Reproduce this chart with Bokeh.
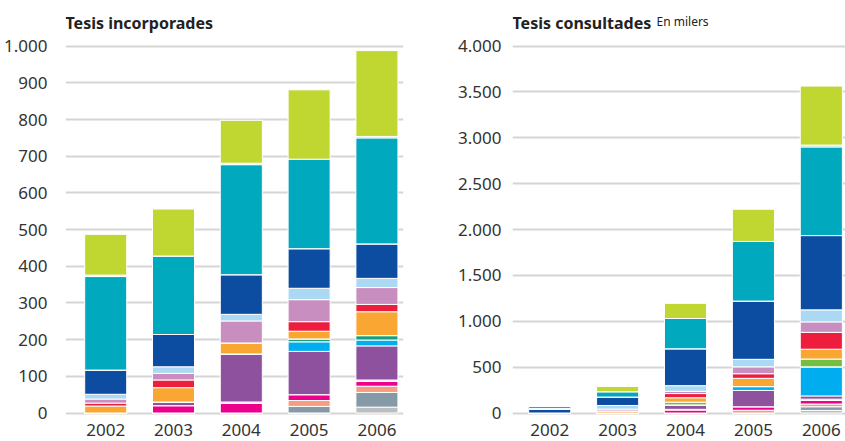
from bokeh.plotting import figure
from bokeh.models import ColumnDataSource, FixedTicker, Range1d
from bokeh.core.properties import value
from bokeh.layouts import row
from bokeh.embed import file_html
from bokeh.resources import INLINE

# ---------------- data ----------------
years = ["2002", "2003", "2004", "2005", "2006"]

series_names = [
    "s01", "s02", "s03", "s04", "s05", "s06", "s07", "s08", "s09",
    "s10", "s11", "s12", "s13", "s14", "s14b", "s15", "s16", "s17",
]
series_colors = [
    "#BCBEC0", "#8599A6", "#F69C7F", "#EC008C", "#F6B8D0", "#8D519E",
    "#00ADEE", "#12A17C", "#72BF44", "#F9A633", "#EE1D3D", "#C98EC0",
    "#ABD8F2", "#0D4DA1", "#A9D3EE", "#00A9BD", "#A1DAE4", "#BFD730",
]

# Tesis incorporades (units)
inc_s01 = [0, 0, 0, 0, 16]
inc_s02 = [0, 0, 0, 18, 40]
inc_s03 = [0, 0, 0, 16, 17]
inc_s04 = [0, 20, 26, 16, 13]
inc_s05 = [0, 0, 4, 0, 4]
inc_s06 = [0, 10, 131, 118, 93]
inc_s07 = [0, 0, 0, 26, 16]
inc_s08 = [0, 0, 0, 8, 12]
inc_s09 = [0, 0, 0, 0, 0]
inc_s10 = [19, 39, 30, 21, 65]
inc_s11 = [8, 21, 0, 26, 20]
inc_s12 = [11, 18, 60, 60, 46]
inc_s13 = [13, 18, 18, 31, 25]
inc_s14 = [66, 88, 108, 108, 94]
inc_s14b = [0, 0, 0, 0, 0]
inc_s15 = [255, 214, 300, 244, 289]
inc_s16 = [4, 0, 4, 0, 4]
inc_s17 = [111, 128, 117, 189, 234]

# Tesis consultades (thousands)
con_s01 = [0, 0, 0, 0, 28]
con_s02 = [0, 0, 0, 0, 40]
con_s03 = [0, 0, 0, 30, 30]
con_s04 = [0, 0, 32, 38, 38]
con_s05 = [0, 0, 8, 0, 15]
con_s06 = [0, 0, 48, 178, 35]
con_s07 = [0, 0, 0, 42, 317]
con_s08 = [0, 0, 0, 0, 0]
con_s09 = [0, 0, 30, 0, 85]
con_s10 = [0, 22, 48, 90, 107]
con_s11 = [0, 0, 46, 50, 184]
con_s12 = [0, 20, 24, 75, 114]
con_s13 = [0, 40, 62, 82, 131]
con_s14 = [40, 92, 402, 635, 810]
con_s14b = [10, 0, 0, 0, 0]
con_s15 = [25, 58, 330, 650, 966]
con_s16 = [0, 0, 0, 0, 20]
con_s17 = [0, 58, 165, 351, 643]

left_ticks = [0, 100, 200, 300, 400, 500, 600, 700, 800, 900, 1000]
left_tick_labels = ["0", "100", "200", "300", "400", "500", "600", "700", "800", "900", "1.000"]
right_ticks = [0, 500, 1000, 1500, 2000, 2500, 3000, 3500, 4000]
right_tick_labels = ["0", "500", "1.000", "1.500", "2.000", "2.500", "3.000", "3.500", "4.000"]

inc_values = [inc_s01, inc_s02, inc_s03, inc_s04, inc_s05, inc_s06, inc_s07, inc_s08, inc_s09,
              inc_s10, inc_s11, inc_s12, inc_s13, inc_s14, inc_s14b, inc_s15, inc_s16, inc_s17]
con_values = [con_s01, con_s02, con_s03, con_s04, con_s05, con_s06, con_s07, con_s08, con_s09,
              con_s10, con_s11, con_s12, con_s13, con_s14, con_s14b, con_s15, con_s16, con_s17]

FONT = "Noto Sans"
TEXT_COLOR = "#333333"
GRID_COLOR = "#D5D5D5"

FIG_H = 441          # canvas spans page y 0 .. 441
ZERO_PX = 412.5      # page y of the zero gridline
TOP_PX = 0.0
YEAR_MID_PX = 429.5
TITLE_MID_PX = 22.0


def make_chart(values, ticks, tick_labels, width, border_left, border_right, xr,
               px_per_unit, standoff, title, subtitle=None, subtitle_dx=0.0):
    x_pos = list(range(len(years)))
    data = {"x": x_pos}
    for name, vals in zip(series_names, values):
        data[name] = vals
    source = ColumnDataSource(data)

    y_end = (ZERO_PX - TOP_PX) / px_per_unit
    y_start = -(TOP_PX + FIG_H - ZERO_PX) / px_per_unit

    p = figure(width=width, height=FIG_H, x_range=Range1d(*xr), y_range=Range1d(y_start, y_end),
               output_backend="svg", toolbar_location=None,
               min_border_left=border_left, min_border_right=border_right,
               min_border_top=0, min_border_bottom=0)
    p.outline_line_color = None
    p.background_fill_color = "white"
    p.border_fill_color = "white"

    p.vbar_stack(series_names, x="x", width=0.62, color=series_colors, source=source,
                 line_color="white", line_width=1)

    p.xgrid.grid_line_color = None
    p.ygrid.ticker = FixedTicker(ticks=ticks)
    p.ygrid.grid_line_color = GRID_COLOR
    p.ygrid.grid_line_width = 2

    p.xaxis.visible = False
    p.yaxis.ticker = FixedTicker(ticks=ticks)
    p.yaxis.major_label_overrides = {t: l for t, l in zip(ticks, tick_labels)}
    p.yaxis.axis_line_color = None
    p.yaxis.major_tick_line_color = None
    p.yaxis.minor_tick_line_color = None
    p.yaxis.major_label_text_font = FONT
    p.yaxis.major_label_text_font_size = "17px"
    p.yaxis.major_label_text_color = TEXT_COLOR
    p.yaxis.major_label_standoff = standoff

    # category (year) labels under the bars
    year_y = -(YEAR_MID_PX - ZERO_PX) / px_per_unit
    p.text(x=x_pos, y=[year_y] * len(x_pos), text=years,
           text_font=value(FONT), text_font_size="17px", text_color=TEXT_COLOR,
           text_align="center", text_baseline="middle")

    # titles
    title_y = (ZERO_PX - TITLE_MID_PX) / px_per_unit
    x0 = xr[0]
    p.text(x=[x0], y=[title_y], text=[title], text_font=value(FONT),
           text_font_style="bold", text_font_size="16px", text_color="#222222",
           text_align="left", text_baseline="middle")
    if subtitle:
        p.text(x=[x0 + subtitle_dx], y=[title_y + 1.0 / px_per_unit], text=[subtitle],
               text_font=value(FONT), text_font_size="12px", text_color="#222222",
               text_align="left", text_baseline="middle")
    return p


left = make_chart(inc_values, left_ticks, left_tick_labels, width=408,
                  border_left=65, border_right=5,
                  xr=(-0.593, 4.392), px_per_unit=366.8 / 1000, standoff=12,
                  title="Tesis incorporades")
right = make_chart(con_values, right_ticks, right_tick_labels, width=437,
                   border_left=104, border_right=0,
                   xr=(-0.548, 4.356), px_per_unit=367.0 / 4000, standoff=5,
                   title="Tesis consultades", subtitle="En milers",
                   subtitle_dx=144.0 / 67.9)

layout = row(left, right, spacing=0)

open("out.html", "w").write(file_html(layout, INLINE))
